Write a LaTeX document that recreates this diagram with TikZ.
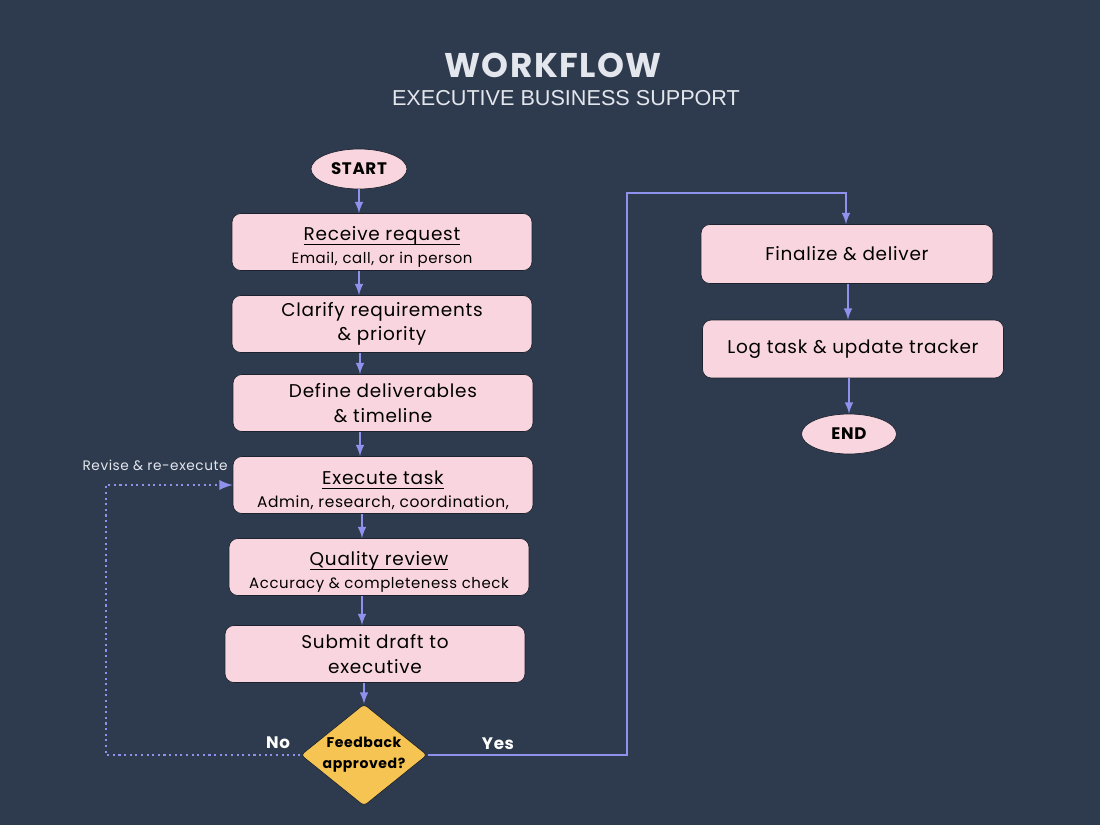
\documentclass[tikz,border=0pt]{standalone}
\usepackage{fontspec}
\setmainfont{Poppins}[LetterSpace=4]
\newfontfamily\subfont{Liberation Sans}
\newcommand\ulined[1]{\setbox0\hbox{#1}\rlap{\rule[-2.2pt]{\wd0}{0.6pt}}\rule{0pt}{14pt}\box0}
\usepackage{tikz}
\usetikzlibrary{shapes.geometric}
\usetikzlibrary{%
  calc,%
  arrows%
}
\definecolor{bgnavy}{HTML}{2E3B4F}
\definecolor{boxpink}{HTML}{F9D6DF}
\definecolor{linkblue}{HTML}{8E92EC}
\definecolor{decgold}{HTML}{F5C452}
\definecolor{lightgrey}{HTML}{E3E6EC}

\begin{document}
\begin{tikzpicture}[x=0.02cm,y=-0.02cm,
  stepbox/.style={draw=bgnavy!60!black,fill=boxpink,rounded corners=5pt,
    minimum width=6cm,minimum height=1.14cm,align=center,font=\fontsize{10.5}{14}\selectfont},
  detailbox/.style={stepbox,inner ysep=1pt},
  terminal/.style={ellipse,draw=bgnavy!60!black,fill=boxpink,minimum width=1.92cm,
    minimum height=0.8cm,inner sep=0pt,font=\fontsize{9.5}{11}\selectfont\bfseries},
  decision/.style={diamond,fill=decgold,draw=bgnavy!60!black,aspect=1.24,minimum width=2.48cm,
    minimum height=2cm,inner sep=0pt,rounded corners=2pt,align=center,
    font=\fontsize{8}{12}\selectfont\bfseries},
  link/.style={linkblue,line width=1.2pt,-latex},
  sub/.style={font=\fontsize{7.8}{10}\selectfont}]

\useasboundingbox[fill=bgnavy] (0,0) rectangle (1100,825);

% title
\node[lightgrey,font=\fontsize{19.5}{20}\selectfont\bfseries] (title) at (553,65) {WORKFLOW};
\node[lightgrey,font=\fontsize{12.3}{14}\selectfont\subfont] (subtitle) at (566,98) {EXECUTIVE BUSINESS SUPPORT};

% left column
\node[detailbox] (receive) at (382,242)
  {\ulined{Receive request}\\[-1pt]{\fontsize{8.5}{10}\selectfont Email, call, or in person}};
\node[terminal] (start) at (359,169) {START};
\node[stepbox] (clarify) at (382,324) {Clarify requirements\\ \& priority};
\node[stepbox] (define) at (383,403) {Define deliverables\\ \& timeline};
\node[detailbox] (execute) at (383,485)
  {\ulined{Execute task}\\[-1pt]{\fontsize{8.8}{10}\selectfont Admin, research, coordination,}};
\node[detailbox] (quality) at (379,567)
  {\ulined{Quality review}\\[-1pt]{\fontsize{8.5}{10}\selectfont Accuracy \& completeness check}};
\node[stepbox] (submit) at (375,654) {Submit draft to\\ executive};
\node[decision] (approved) at (364,755) {Feedback\\approved?};

% right column
\node[stepbox,minimum width=5.84cm,minimum height=1.18cm] (finalize) at (847,254) {Finalize \& deliver};
\node[stepbox,minimum width=6.02cm,minimum height=1.16cm] (logtask) at (853,349) {Log task \& update tracker};
\node[terminal,minimum width=1.9cm] (end) at (849,434) {END};

% main flow
\draw[link] (start.south) -- (start.south |- receive.north);
\draw[link] (start.south |- receive.south) -- (start.south |- clarify.north);
\draw[link] ($(clarify.south)+(-22,0)$) coordinate (c1) -- (c1 |- define.north);
\draw[link] ($(define.south)+(-23,0)$) coordinate (c2) -- (c2 |- execute.north);
\draw[link] ($(execute.south)+(-21,0)$) coordinate (c3) -- (c3 |- quality.north);
\draw[link] ($(quality.south)+(-17,0)$) coordinate (c4) -- (c4 |- submit.north);
\draw[link] (approved.north |- submit.south) -- (approved.north);
\draw[link] ($(finalize.south)+(1,0)$) coordinate (c5) -- (c5 |- logtask.north);
\draw[link] (end.north |- logtask.south) -- (end.north);

% yes branch
\coordinate (yesturn) at (627,193);
\draw[link] (approved.east) -| (yesturn) -| ($(finalize.north)+(-1,0)$);
\node[white,font=\fontsize{9.5}{11}\selectfont\bfseries] (yes) at (498,744) {Yes};

% no branch
\coordinate (noturn) at (106,755);
\draw[link,dotted,line width=1.6pt] (approved.west) -- (noturn) |- (execute.west);
\node[white,font=\fontsize{9.5}{11}\selectfont\bfseries] (no) at (278,743) {No};
\node[lightgrey,sub,anchor=east,inner sep=0pt] (revise) at (228,465) {Revise \& re-execute};
\end{tikzpicture}
\end{document}
